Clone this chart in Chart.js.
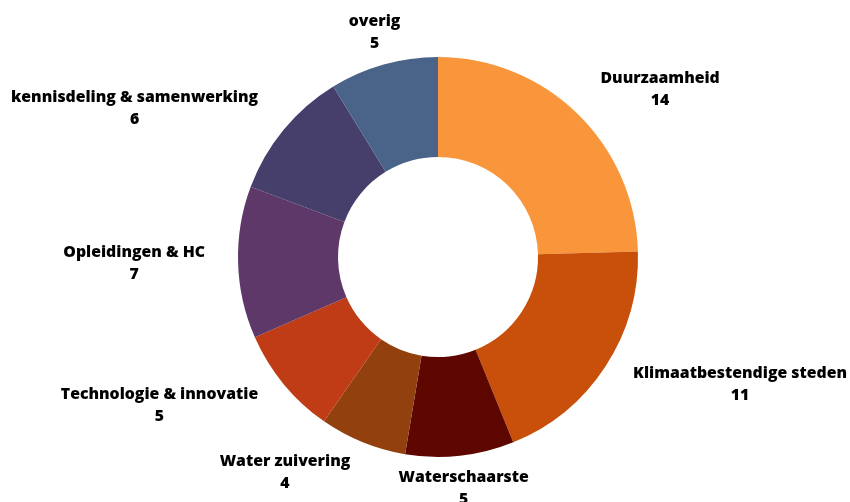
<!DOCTYPE html>
<html>
<head>
<meta charset="utf-8">
<script src="https://cdn.jsdelivr.net/npm/chart.js@4.4.1/dist/chart.umd.min.js"></script>
<style>
  html, body { margin: 0; padding: 0; background: #ffffff; }
  #wrap { width: 850px; height: 502px; position: relative; }
</style>
</head>
<body>
<div id="wrap"><canvas id="c" width="850" height="502"></canvas></div>
<script>
const categories = [
  "Duurzaamheid",
  "Klimaatbestendige steden",
  "Waterschaarste",
  "Water zuivering",
  "Technologie & innovatie",
  "Opleidingen & HC",
  "kennisdeling & samenwerking",
  "overig"
];
const values = [14, 11, 5, 4, 5, 7, 6, 5];
const sliceColors = [
  "#F9963B", "#C9500A", "#5E0701", "#93400F",
  "#BF3C17", "#5E3868", "#473F6B", "#4A6388"
];

const outsideLabels = {
  id: "outsideLabels",
  afterDatasetsDraw(chart) {
    const ctx = chart.ctx;
    const meta = chart.getDatasetMeta(0);
    ctx.save();
    ctx.font = "800 15.8px 'Open Sans'";
    ctx.fillStyle = "#000000";
    ctx.textBaseline = "middle";
    ctx.textAlign = "center";
    const lh = 22;
    meta.data.forEach((arc, i) => {
      const p = arc.getProps(["x", "y", "startAngle", "endAngle", "outerRadius"], true);
      const mid = (p.startAngle + p.endAngle) / 2;
      const r = p.outerRadius * 1.165;
      const ax = p.x + Math.cos(mid) * r;
      const ay = p.y + Math.sin(mid) * r;
      const l1 = categories[i];
      const l2 = String(values[i]);
      const w = Math.max(ctx.measureText(l1).width, ctx.measureText(l2).width);
      const c = Math.cos(mid);
      let cx;
      if (Math.abs(c) < 0.32) cx = ax;
      else if (c > 0) cx = ax + w / 2;
      else cx = ax - w / 2;
      ctx.fillText(l1, cx, ay - lh / 2);
      ctx.fillText(l2, cx, ay + lh / 2);
    });
    ctx.restore();
  }
};

new Chart(document.getElementById("c"), {
  type: "doughnut",
  data: {
    labels: categories,
    datasets: [{
      data: values,
      backgroundColor: sliceColors,
      borderWidth: 0,
      hoverOffset: 0
    }]
  },
  options: {
    responsive: false,
    animation: false,
    cutout: "50%",
    layout: { padding: { top: 57, bottom: 45, left: 238, right: 212 } },
    plugins: {
      legend: { display: false },
      tooltip: { enabled: false },
      title: { display: false }
    }
  },
  plugins: [outsideLabels]
});
</script>
</body>
</html>
